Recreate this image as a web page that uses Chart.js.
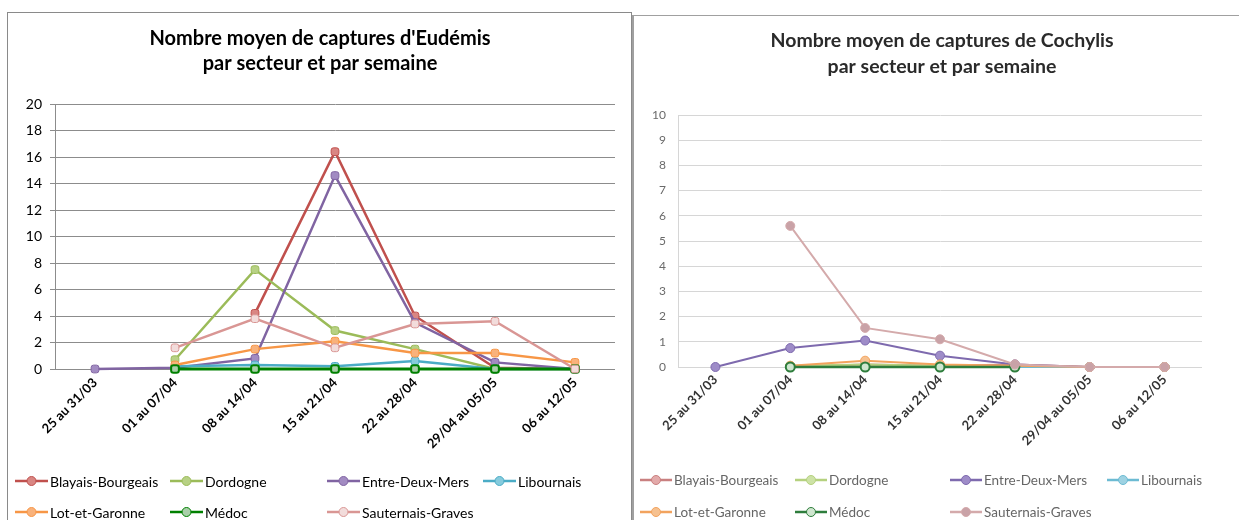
<!DOCTYPE html>
<html>
<head>
<meta charset="utf-8">
<script src="https://cdn.jsdelivr.net/npm/chart.js@4"></script>
<style>
  body { margin: 0; background: #fff; width: 1239px; height: 520px; overflow: hidden; position: relative; }
  .panel { position: absolute; background: #fff; }
  #left-panel { left: 7px; top: 12px; width: 623px; height: 520px; border: 1px solid #8a8a8a; border-bottom: none; }
  #right-panel { left: 632px; top: 15px; width: 607px; height: 520px; border-top: 1px solid #a0a0a0; border-left: 2px solid #a0a0a0; }
  canvas { position: absolute; left: 0; top: 0; }
</style>
</head>
<body>
<div class="panel" id="left-panel"><canvas id="eudemis" width="623" height="507"></canvas></div>
<div class="panel" id="right-panel"><canvas id="cochylis" width="605" height="504"></canvas></div>
<script>
// Categories (weeks)
const weeks = ['25 au 31/03', '01 au 07/04', '08 au 14/04', '15 au 21/04', '22 au 28/04', '29/04 au 05/05', '06 au 12/05'];
const sectors = ['Blayais-Bourgeais', 'Dordogne', 'Entre-Deux-Mers', 'Libournais', 'Lot-et-Garonne', 'Médoc', 'Sauternais-Graves'];

// Eudémis - average catches
const eudBlayais    = [null, null, 4.2, 16.4, 4.0, 0.1, 0];
const eudDordogne   = [null, 0.7, 7.5, 2.9, 1.5, 0, 0];
const eudEntreDeux  = [0, 0.1, 0.8, 14.6, 3.5, 0.5, 0];
const eudLibournais = [null, 0.2, 0.3, 0.2, 0.6, 0, 0];
const eudLot        = [null, 0.3, 1.5, 2.1, 1.2, 1.2, 0.5];
const eudMedoc      = [null, 0, 0, 0, 0, 0, 0];
const eudSauternais = [null, 1.6, 3.8, 1.6, 3.4, 3.6, 0];

// Cochylis - average catches
const cocBlayais    = [null, 0, 0.1, 0.05, 0.1, 0, 0];
const cocDordogne   = [null, 0.05, 0.1, 0.05, 0, 0, 0];
const cocEntreDeux  = [0, 0.75, 1.05, 0.45, 0.1, 0, 0];
const cocLibournais = [null, 0, 0, 0, 0, 0, 0];
const cocLot        = [null, 0.05, 0.25, 0.1, 0.05, 0, 0];
const cocMedoc      = [null, 0, 0, 0, 0, null, null];
const cocSauternais = [null, 5.6, 1.55, 1.1, 0.1, 0, 0];

const yTicksEud = [0, 2, 4, 6, 8, 10, 12, 14, 16, 18, 20];
const yTicksCoc = [0, 1, 2, 3, 4, 5, 6, 7, 8, 9, 10];

// Colours: [line, marker fill]
const leftColors = [
    ['#C0504D', '#D98683'], ['#9BBB59', '#B7D184'], ['#8064A2', '#A28BC2'], ['#4BACC6', '#86CBDD'],
    ['#F79646', '#F9B27B'], ['#008000', '#A9CFA9'], ['#D99694', '#F2DCDB']
];
const rightColors = [
    ['#C98080', '#E3AAAA'], ['#B5D17F', '#CDE2A6'], ['#7E6AAE', '#9E8CC8'], ['#6CBBD3', '#9ED2E2'],
    ['#F2A35E', '#F6C190'], ['#2E7D3C', '#CFE6CF'], ['#D4AAAB', '#C9A2A7']
];

function makeDatasets(series, colors, lineWidth, pointStyle) {
    return series.map((data, i) => ({
        label: sectors[i],
        data: data,
        borderColor: colors[i][0],
        backgroundColor: colors[i][1],
        borderWidth: i === 5 ? lineWidth + 0.5 : lineWidth,
        pointStyle: pointStyle,
        pointRadius: 4.5,
        pointBackgroundColor: colors[i][1],
        pointBorderColor: colors[i][0],
        pointBorderWidth: i === 5 ? 2 : 1,
        tension: 0,
        spanGaps: false,
        clip: false,
        order: 10 - i
    }));
}

// Draws title and a grid legend like the original sheet
const panelPlugin = {
    id: 'panel',
    afterDraw(chart, args, opts) {
        const ctx = chart.ctx;
        ctx.save();
        ctx.fillStyle = opts.titleColor;
        ctx.font = opts.titleFont;
        ctx.textAlign = 'center';
        ctx.textBaseline = 'middle';
        opts.title.forEach((t, i) => ctx.fillText(t, opts.titleX, opts.titleY[i]));

        ctx.font = opts.legendFont;
        ctx.textAlign = 'left';
        chart.data.datasets.forEach((ds, i) => {
            const x = opts.legendX[i % 4];
            const y = opts.legendY[Math.floor(i / 4)];
            ctx.strokeStyle = ds.borderColor;
            ctx.lineWidth = 2.5;
            ctx.beginPath();
            ctx.moveTo(x, y);
            ctx.lineTo(x + opts.lineLen, y);
            ctx.stroke();
            ctx.beginPath();
            ctx.arc(x + opts.lineLen / 2, y, 4.5, 0, Math.PI * 2);
            ctx.fillStyle = ds.pointBackgroundColor;
            ctx.fill();
            ctx.lineWidth = 1;
            ctx.stroke();
            ctx.fillStyle = opts.legendColor;
            ctx.fillText(ds.label, x + opts.lineLen + 2, y + 1);
        });
        ctx.restore();
    }
};

function buildChart(id, cfg) {
    return new Chart(document.getElementById(id), {
        type: 'line',
        data: { labels: weeks, datasets: cfg.datasets },
        plugins: [panelPlugin],
        options: {
            responsive: false,
            animation: false,
            devicePixelRatio: 1,
            layout: { padding: cfg.padding },
            plugins: {
                legend: { display: false },
                title: { display: false },
                tooltip: { enabled: false },
                panel: cfg.panel
            },
            scales: {
                x: {
                    offset: true,
                    grid: { display: false, drawTicks: false },
                    border: { display: false },
                    ticks: {
                        minRotation: 45, maxRotation: 45, autoSkip: false,
                        padding: cfg.xPad,
                        color: cfg.xColor,
                        font: cfg.xFont
                    },
                    afterFit: s => { s.height = 80; }
                },
                y: {
                    min: 0, max: cfg.yMax,
                    afterBuildTicks: s => { s.ticks = cfg.yTicks.map(v => ({ value: v })); },
                    grid: { color: cfg.gridColor, lineWidth: 1, tickLength: cfg.tickLen, drawTicks: cfg.tickLen > 0 },
                    border: { display: true, color: cfg.gridColor },
                    ticks: { padding: cfg.yPad, color: cfg.yColor, font: cfg.yFont },
                    afterFit: s => { s.width = cfg.yWidth; }
                }
            }
        }
    });
}

buildChart('eudemis', {
    datasets: makeDatasets([eudBlayais, eudDordogne, eudEntreDeux, eudLibournais, eudLot, eudMedoc, eudSauternais], leftColors, 2.5, 'rectRounded'),
    padding: { top: 91, right: 16, bottom: 71, left: 0 },
    yMax: 20, yTicks: yTicksEud, yWidth: 47, tickLen: 5, yPad: 8,
    gridColor: '#8c8c8c',
    yColor: '#000', yFont: { family: 'Lato', size: 14 },
    xColor: '#000', xFont: { family: 'Lato', size: 13, weight: 'bold' }, xPad: 6,
    panel: {
        title: ["Nombre moyen de captures d'Eudémis", 'par secteur et par semaine'],
        titleX: 312, titleY: [26, 51], titleColor: '#000',
        titleFont: 'bold 20px Lato',
        legendX: [7, 162, 319, 475], legendY: [468, 499], lineLen: 33,
        legendFont: '14px Lato', legendColor: '#000'
    }
});

buildChart('cochylis', {
    datasets: makeDatasets([cocBlayais, cocDordogne, cocEntreDeux, cocLibournais, cocLot, cocMedoc, cocSauternais], rightColors, 2, 'circle'),
    padding: { top: 99, right: 37, bottom: 73, left: 0 },
    yMax: 10, yTicks: yTicksCoc, yWidth: 44, tickLen: 0, yPad: 12,
    gridColor: '#d6d6d6',
    yColor: '#6a6a6a', yFont: { family: 'Lato', size: 12 },
    xColor: '#333', xFont: { family: 'Lato', size: 13, weight: 'bold' }, xPad: 5,
    panel: {
        title: ['Nombre moyen de captures de Cochylis', 'par secteur et par semaine'],
        titleX: 308, titleY: [25, 51], titleColor: '#2a2a2a',
        titleFont: 'bold 19.5px Lato',
        legendX: [6, 161, 316, 473], legendY: [464, 496], lineLen: 32,
        legendFont: '13.5px Lato', legendColor: '#666'
    }
});
</script>
</body>
</html>
